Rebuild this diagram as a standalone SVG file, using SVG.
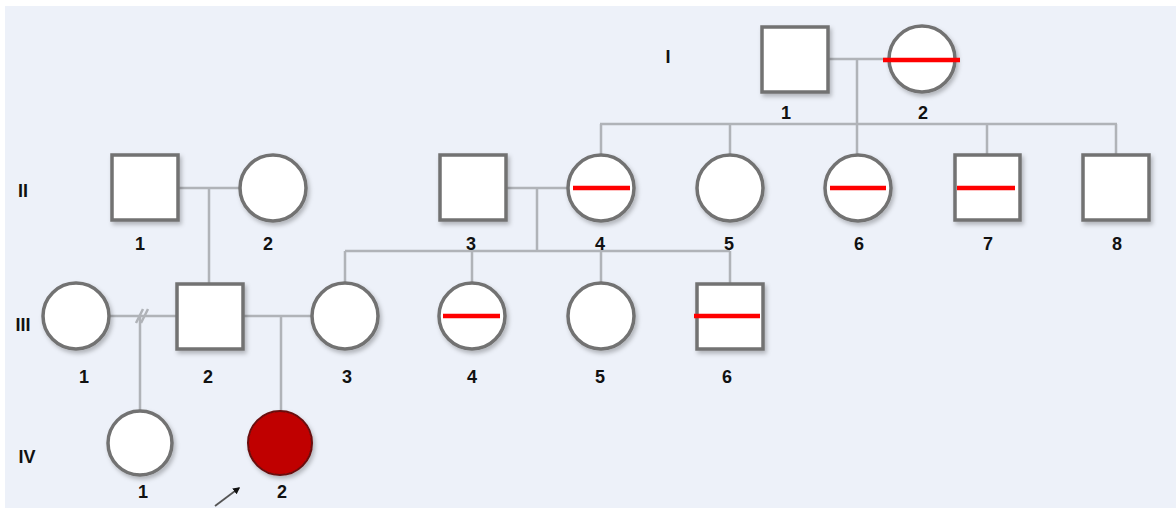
<svg xmlns="http://www.w3.org/2000/svg" width="1176" height="508" viewBox="0 0 1176 508">
<defs>
<filter id="sh" x="-20%" y="-20%" width="150%" height="150%">
<feDropShadow dx="2" dy="3" stdDeviation="2" flood-color="#000" flood-opacity="0.25"/>
</filter>
<marker id="ah" viewBox="0 0 10 10" refX="8" refY="5" markerWidth="4" markerHeight="4" orient="auto">
<path d="M0,0 L10,5 L0,10 z" fill="#111"/>
</marker>
<style>
.n{fill:#fff;stroke:#727272;stroke-width:3.5;filter:url(#sh)}
.a{fill:#c00000;stroke:#6a1010;stroke-width:2;filter:url(#sh)}
.r{stroke:#ff0000;stroke-width:4.5;fill:none}
.c{stroke:#b0b3b8;stroke-width:2.5;fill:none}
.t{font-family:"Liberation Sans",Arial,sans-serif;font-weight:bold;font-size:18px;fill:#111;text-anchor:middle}
</style>
</defs>
<rect x="0" y="0" width="1176" height="508" fill="#fff"/>
<rect x="5" y="6" width="1171" height="502" fill="#edf1f9"/>
<g id="gen-labels">
<text class="t" x="668" y="63">I</text>
<text class="t" x="23" y="197">II</text>
<text class="t" x="23" y="331">III</text>
<text class="t" x="27" y="463">IV</text>
</g>
<g id="connectors">
<path class="c" d="M828,59 H888 M857,59 V124 M600,124 H1117 M601,124 V155 M730,124 V155 M857,124 V155 M987,124 V155 M1116,124 V155"/>
<path class="c" d="M179,188 H241 M209,188 V283"/>
<path class="c" d="M506,188 H568 M537,188 V251 M345,251 H730 M345,251 V284 M472,251 V284 M601,251 V284 M730,251 V284"/>
<path class="c" d="M109,316 H177 M140,316 V411"/>
<path class="c" d="M136,323 L143,309 M141,323 L148,309" stroke-width="1.5"/>
<path class="c" d="M243,316 H312 M281,316 V411"/>
<line x1="215" y1="506" x2="239" y2="488" stroke="#555" stroke-width="1.8" marker-end="url(#ah)"/>
</g>
<g id="I-1"><rect class="n" x="762" y="27" width="66" height="65"/><text class="t" x="786" y="119">1</text></g>
<g id="I-2"><circle class="n" cx="922" cy="59" r="33"/><line class="r" x1="883" y1="60" x2="960" y2="60"/><text class="t" x="923" y="119">2</text></g>
<g id="II-1"><rect class="n" x="112" y="155" width="66" height="65"/><text class="t" x="140" y="250">1</text></g>
<g id="II-2"><circle class="n" cx="273" cy="188" r="33"/><text class="t" x="268" y="250">2</text></g>
<g id="II-3"><rect class="n" x="440" y="155" width="66" height="65"/><text class="t" x="471" y="250">3</text></g>
<g id="II-4"><circle class="n" cx="601" cy="188" r="33"/><line class="r" x1="573" y1="188" x2="630" y2="188"/><text class="t" x="600" y="250">4</text></g>
<g id="II-5"><circle class="n" cx="730" cy="188" r="33"/><text class="t" x="729" y="250">5</text></g>
<g id="II-6"><circle class="n" cx="858" cy="188" r="33"/><line class="r" x1="830" y1="188" x2="886" y2="188"/><text class="t" x="859" y="250">6</text></g>
<g id="II-7"><rect class="n" x="955" y="155" width="65" height="65"/><line class="r" x1="957" y1="188" x2="1015" y2="188"/><text class="t" x="988" y="250">7</text></g>
<g id="II-8"><rect class="n" x="1083" y="155" width="66" height="65"/><text class="t" x="1117" y="250">8</text></g>
<g id="III-1"><circle class="n" cx="76" cy="316" r="33"/><text class="t" x="84" y="383">1</text></g>
<g id="III-2"><rect class="n" x="177" y="284" width="66" height="65"/><text class="t" x="208" y="383">2</text></g>
<g id="III-3"><circle class="n" cx="345" cy="316" r="33"/><text class="t" x="347" y="383">3</text></g>
<g id="III-4"><circle class="n" cx="472" cy="316" r="33"/><line class="r" x1="443" y1="316" x2="500" y2="316"/><text class="t" x="472" y="383">4</text></g>
<g id="III-5"><circle class="n" cx="601" cy="316" r="33"/><text class="t" x="600" y="383">5</text></g>
<g id="III-6"><rect class="n" x="697" y="284" width="66" height="65"/><line class="r" x1="694" y1="316" x2="760" y2="316"/><text class="t" x="727" y="383">6</text></g>
<g id="IV-1"><circle class="n" cx="140" cy="443" r="32"/><text class="t" x="143" y="498">1</text></g>
<g id="IV-2"><circle class="a" cx="280" cy="443" r="32"/><text class="t" x="282" y="498">2</text></g>
</svg>
